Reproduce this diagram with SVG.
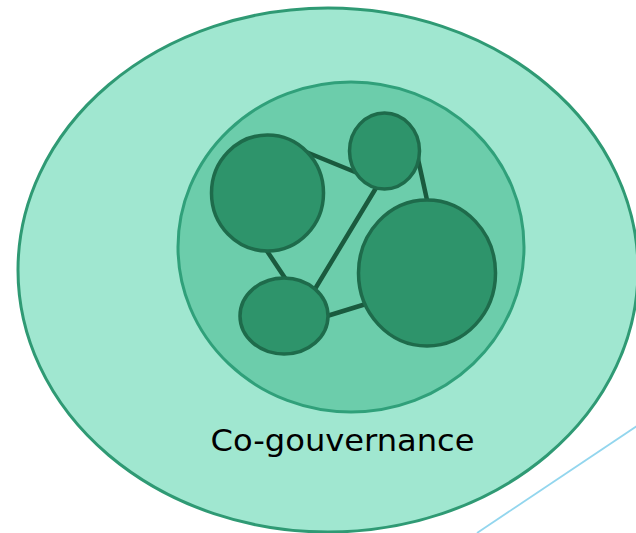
<svg xmlns="http://www.w3.org/2000/svg" width="636" height="533" viewBox="0 0 636 533">
<style>
.node{fill:#2e946b;stroke:#1e6b4b;stroke-width:3.5}
.edge{stroke:#1a5a3e;stroke-width:4.5;stroke-linecap:round}
.lbl{font-family:"DejaVu Sans Condensed","DejaVu Sans",sans-serif;font-size:31px;fill:#000}
</style>
<rect width="636" height="533" fill="#ffffff"/>
<line x1="477" y1="533" x2="640" y2="424" stroke="#93d6ee" stroke-width="1.8"/>
<g id="outer"><ellipse cx="328" cy="270" rx="310" ry="262" fill="#a0e7d0" stroke="#2f9a74" stroke-width="3"/></g>
<g id="inner"><ellipse cx="351" cy="247" rx="173" ry="165" fill="#6ccdab" stroke="#30a07a" stroke-width="3"/></g>
<g id="connectors">
<line class="edge" x1="306" y1="152" x2="355" y2="172"/>
<line class="edge" x1="418" y1="159" x2="427" y2="200"/>
<line class="edge" x1="376" y1="188" x2="315" y2="289"/>
<line class="edge" x1="267" y1="251" x2="285" y2="278"/>
<line class="edge" x1="327" y1="316" x2="366" y2="304"/>
</g>
<g id="n1"><ellipse class="node" cx="267.5" cy="193" rx="56" ry="58"/></g>
<g id="n2"><ellipse class="node" cx="384.5" cy="151" rx="35" ry="38"/></g>
<g id="n3"><ellipse class="node" cx="427" cy="273" rx="68.5" ry="73"/></g>
<g id="n4"><ellipse class="node" cx="284" cy="316" rx="44" ry="38"/></g>
<g id="label"><text class="lbl" x="342.5" y="451" text-anchor="middle" textLength="264" lengthAdjust="spacingAndGlyphs">Co-gouvernance</text></g>
</svg>
